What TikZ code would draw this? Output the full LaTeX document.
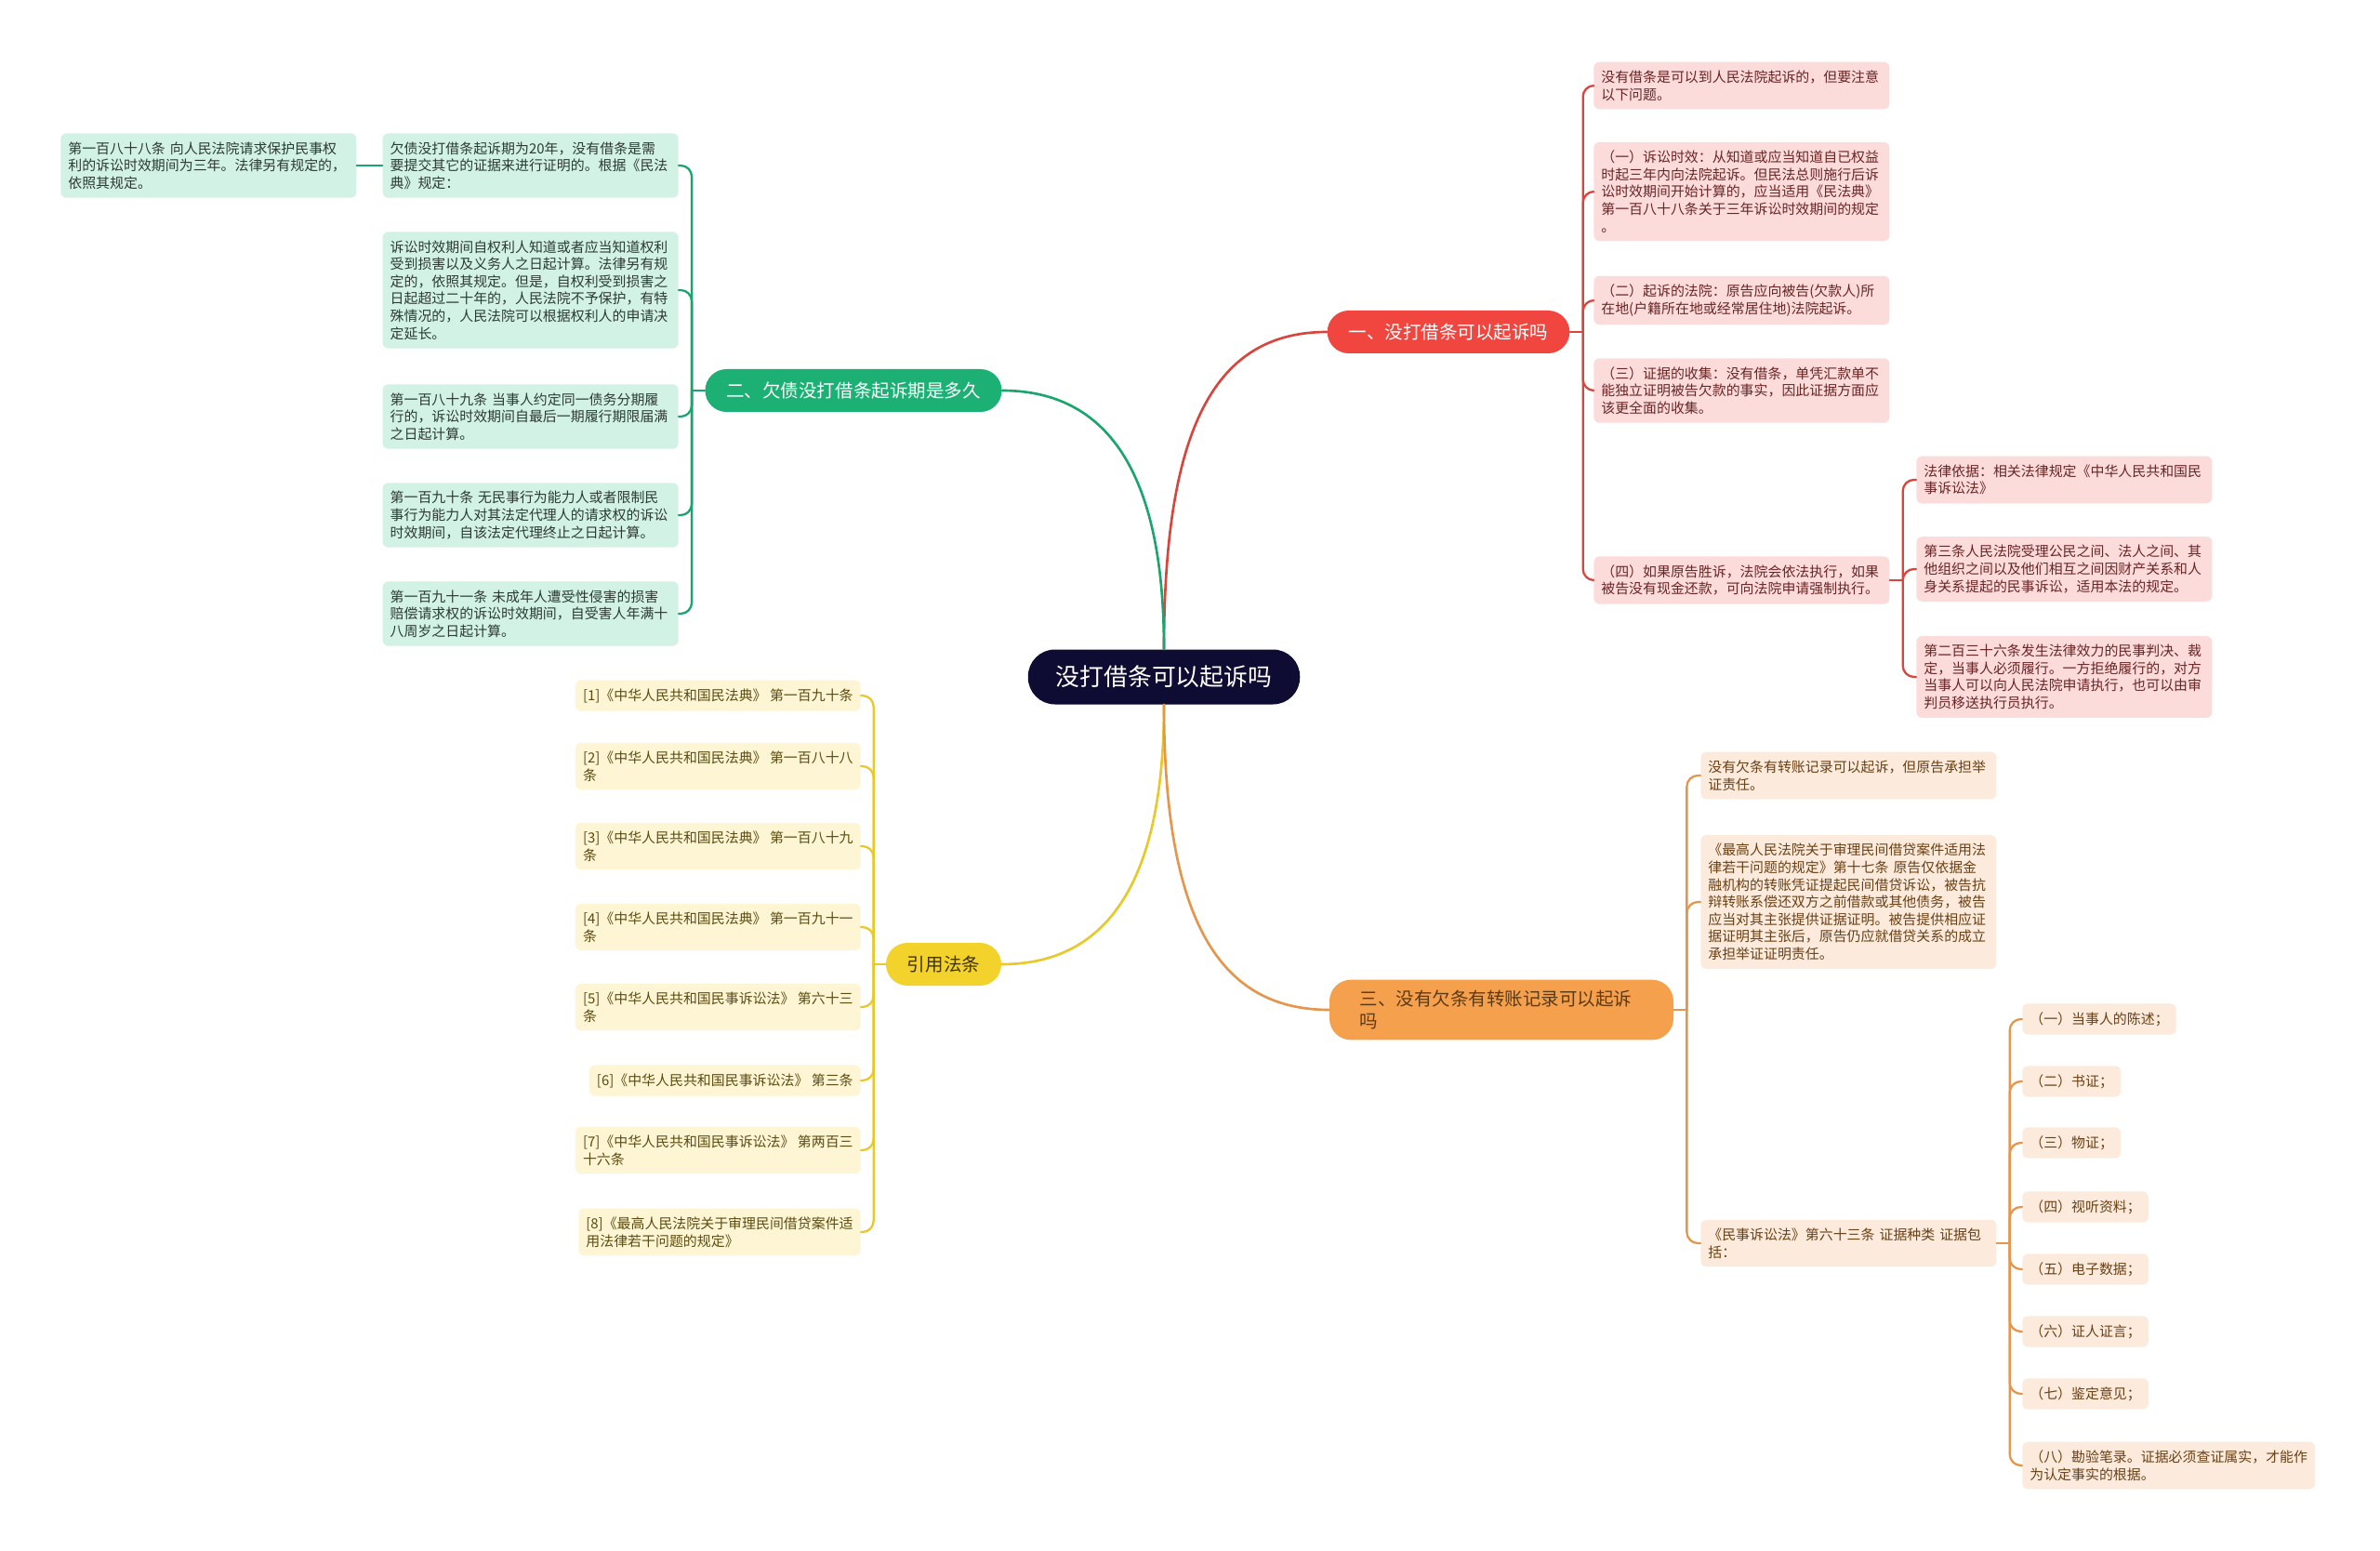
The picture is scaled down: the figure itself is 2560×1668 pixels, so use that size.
\documentclass[tikz,border=0pt]{standalone}
\usepackage{fontspec}
\setmainfont{Noto Sans CJK SC}
\usepackage{tikz}
\usepackage{xcolor}

\definecolor{rootbg}{HTML}{0E0C33}
\definecolor{redmain}{HTML}{F0463F}
\definecolor{redline}{HTML}{D8453D}
\definecolor{redleaf}{HTML}{FCDCDB}
\definecolor{redtext}{HTML}{6A2424}
\definecolor{greenmain}{HTML}{1DB074}
\definecolor{greenline}{HTML}{1AA56F}
\definecolor{greenleaf}{HTML}{D3F2E6}
\definecolor{greentext}{HTML}{2C3A33}
\definecolor{yellowmain}{HTML}{F2D22B}
\definecolor{yellowline}{HTML}{E9C82A}
\definecolor{yellowleaf}{HTML}{FDF5D3}
\definecolor{yellowtext}{HTML}{5C4C12}
\definecolor{yellowhead}{HTML}{40330A}
\definecolor{orangemain}{HTML}{F5A04C}
\definecolor{orangeline}{HTML}{E5964C}
\definecolor{orangeleaf}{HTML}{FCEBDC}
\definecolor{orangetext}{HTML}{6A4015}
\definecolor{orangehead}{HTML}{5B3A17}

\tikzset{
  root/.style={rectangle, fill=rootbg, text=white, rounded corners=5.8mm,
    inner xsep=6mm, inner ysep=3mm, minimum height=11.8mm,
    font=\fontsize{14.7}{18}\selectfont},
  branch/.style={rectangle, rounded corners=4.6mm, inner xsep=4.6mm,
    inner ysep=2.4mm, minimum height=9.2mm,
    font=\fontsize{11.1}{14}\selectfont},
  leaf/.style={rectangle, rounded corners=1.2mm, inner xsep=1.6mm,
    inner ysep=1.8mm, align=left, font=\fontsize{8.5}{10.6}\selectfont},
  wideleaf/.style={leaf, text width=60.4mm},
  gleaf/.style={wideleaf, fill=greenleaf, text=greentext},
  rleaf/.style={wideleaf, fill=redleaf, text=redtext},
  oleaf/.style={wideleaf, fill=orangeleaf, text=orangetext},
  oitem/.style={leaf, fill=orangeleaf, text=orangetext},
  yleaf/.style={leaf, fill=yellowleaf, text=yellowtext},
  link/.style={line width=1.3pt, line cap=round, rounded corners=2.4mm},
  trunk/.style={line width=1.5pt, line cap=round, out looseness=1.6, in looseness=0.8}
}

\begin{document}
\begin{tikzpicture}[x=0.2mm, y=-0.2mm]
\fill[white] (0,0) rectangle (2560,1668);
\useasboundingbox (0,0) rectangle (2560,1668);

% centre and main branches
\node[root] (root) at (1252,728) {没打借条可以起诉吗};
\node[branch, fill=redmain, text=white] (one) at (1558,357) {一、没打借条可以起诉吗};
\node[branch, fill=greenmain, text=white] (two) at (918,420) {二、欠债没打借条起诉期是多久};
\node[branch, fill=yellowmain, text=yellowhead] (cite) at (1015,1037) {引用法条};
\node[branch, fill=orangemain, text=orangehead, text width=61mm, align=left,
      inner xsep=6.5mm, inner ysep=2.2mm] (three) at (1615,1086)
  {三、没有欠条有转账记录可以起诉\\吗};

% green side
\node[gleaf, anchor=west] (g1a) at (65,178)
  {第一百八十八条 向人民法院请求保护民事权\\利的诉讼时效期间为三年。法律另有规定的，\\依照其规定。};
\node[gleaf, anchor=east] (g1) at (730,178)
  {欠债没打借条起诉期为20年，没有借条是需\\要提交其它的证据来进行证明的。根据《民法\\典》规定：};
\node[gleaf, anchor=east] (g2) at (730,312)
  {诉讼时效期间自权利人知道或者应当知道权利\\受到损害以及义务人之日起计算。法律另有规\\定的，依照其规定。但是，自权利受到损害之\\日起超过二十年的，人民法院不予保护，有特\\殊情况的，人民法院可以根据权利人的申请决\\定延长。};
\node[gleaf, anchor=east] (g3) at (730,448)
  {第一百八十九条 当事人约定同一债务分期履\\行的，诉讼时效期间自最后一期履行期限届满\\之日起计算。};
\node[gleaf, anchor=east] (g4) at (730,554)
  {第一百九十条 无民事行为能力人或者限制民\\事行为能力人对其法定代理人的请求权的诉讼\\时效期间，自该法定代理终止之日起计算。};
\node[gleaf, anchor=east] (g5) at (730,660)
  {第一百九十一条 未成年人遭受性侵害的损害\\赔偿请求权的诉讼时效期间，自受害人年满十\\八周岁之日起计算。};

% red side
\node[rleaf, anchor=west] (r1) at (1714,92)
  {没有借条是可以到人民法院起诉的，但要注意\\以下问题。};
\node[rleaf, anchor=west] (r2) at (1714,206)
  {（一）诉讼时效：从知道或应当知道自已权益\\时起三年内向法院起诉。但民法总则施行后诉\\讼时效期间开始计算的，应当适用《民法典》\\第一百八十八条关于三年诉讼时效期间的规定\\。};
\node[rleaf, anchor=west] (r3) at (1714,323)
  {（二）起诉的法院：原告应向被告(欠款人)所\\在地(户籍所在地或经常居住地)法院起诉。};
\node[rleaf, anchor=west] (r4) at (1714,420)
  {（三）证据的收集：没有借条，单凭汇款单不\\能独立证明被告欠款的事实，因此证据方面应\\该更全面的收集。};
\node[rleaf, anchor=west] (r5) at (1714,624)
  {（四）如果原告胜诉，法院会依法执行，如果\\被告没有现金还款，可向法院申请强制执行。};
\node[rleaf, anchor=west] (r5a) at (2061,516)
  {法律依据：相关法律规定《中华人民共和国民\\事诉讼法》};
\node[rleaf, anchor=west] (r5b) at (2061,612)
  {第三条人民法院受理公民之间、法人之间、其\\他组织之间以及他们相互之间因财产关系和人\\身关系提起的民事诉讼，适用本法的规定。};
\node[rleaf, anchor=west] (r5c) at (2061,728)
  {第二百三十六条发生法律效力的民事判决、裁\\定，当事人必须履行。一方拒绝履行的，对方\\当事人可以向人民法院申请执行，也可以由审\\判员移送执行员执行。};

% cited laws
\node[yleaf, anchor=east] (y1) at (926,748) {[1]《中华人民共和国民法典》 第一百九十条};
\node[yleaf, anchor=east] (y2) at (926,824) {[2]《中华人民共和国民法典》 第一百八十八\\条};
\node[yleaf, anchor=east] (y3) at (926,910) {[3]《中华人民共和国民法典》 第一百八十九\\条};
\node[yleaf, anchor=east] (y4) at (926,997) {[4]《中华人民共和国民法典》 第一百九十一\\条};
\node[yleaf, anchor=east] (y5) at (926,1083) {[5]《中华人民共和国民事诉讼法》 第六十三\\条};
\node[yleaf, anchor=east] (y6) at (926,1162) {[6]《中华人民共和国民事诉讼法》 第三条};
\node[yleaf, anchor=east] (y7) at (926,1237) {[7]《中华人民共和国民事诉讼法》 第两百三\\十六条};
\node[yleaf, anchor=east] (y8) at (926,1325) {[8]《最高人民法院关于审理民间借贷案件适\\用法律若干问题的规定》};

% orange side
\node[oleaf, anchor=west] (o1) at (1829,834)
  {没有欠条有转账记录可以起诉，但原告承担举\\证责任。};
\node[oleaf, anchor=west] (o2) at (1829,970)
  {《最高人民法院关于审理民间借贷案件适用法\\律若干问题的规定》第十七条 原告仅依据金\\融机构的转账凭证提起民间借贷诉讼，被告抗\\辩转账系偿还双方之前借款或其他债务，被告\\应当对其主张提供证据证明。被告提供相应证\\据证明其主张后，原告仍应就借贷关系的成立\\承担举证证明责任。};
\node[oleaf, anchor=west] (o3) at (1829,1337)
  {《民事诉讼法》第六十三条 证据种类 证据包\\括：};
\node[oitem, anchor=west] (o3a) at (2175,1096) {（一）当事人的陈述；};
\node[oitem, anchor=west] (o3b) at (2175,1163) {（二）书证；};
\node[oitem, anchor=west] (o3c) at (2175,1229) {（三）物证；};
\node[oitem, anchor=west] (o3d) at (2175,1298) {（四）视听资料；};
\node[oitem, anchor=west] (o3e) at (2175,1365) {（五）电子数据；};
\node[oitem, anchor=west] (o3f) at (2175,1432) {（六）证人证言；};
\node[oitem, anchor=west] (o3g) at (2175,1499) {（七）鉴定意见；};
\node[oitem, anchor=west] (o3h) at (2175,1576) {（八）勘验笔录。证据必须查证属实，才能作\\为认定事实的根据。};

% trunks
\draw[trunk, draw=redline] (root.north) to[out=90, in=180] (one.west);
\draw[trunk, draw=greenline] (root.north) to[out=90, in=0] (two.east);
\draw[trunk, draw=yellowline] (root.south) to[out=-90, in=0] (cite.east);
\draw[trunk, draw=orangeline] (root.south) to[out=-90, in=180] (three.west);

% twigs
\draw[link, draw=greenline] (two.west) -- ++(-14,0) coordinate (twospine);
\foreach \k in {g1,g2,g3,g4,g5}
  \draw[link, draw=greenline] (twospine) |- (\k.east);
\draw[link, draw=greenline] (g1.west) -- (g1a.east);

\draw[link, draw=redline] (one.east) -- ++(14,0) coordinate (onespine);
\foreach \k in {r1,r2,r3,r4,r5}
  \draw[link, draw=redline] (onespine) |- (\k.west);
\draw[link, draw=redline] (r5.east) -- ++(14,0) coordinate (fourspine);
\foreach \k in {r5a,r5b,r5c}
  \draw[link, draw=redline] (fourspine) |- (\k.west);

\draw[link, draw=yellowline] (cite.west) -- ++(-13,0) coordinate (citespine);
\foreach \k in {y1,y2,y3,y4,y5,y6,y7,y8}
  \draw[link, draw=yellowline] (citespine) |- (\k.east);

\draw[link, draw=orangeline] (three.east) -- ++(14,0) coordinate (threespine);
\foreach \k in {o1,o2,o3}
  \draw[link, draw=orangeline] (threespine) |- (\k.west);
\draw[link, draw=orangeline] (o3.east) -- ++(14,0) coordinate (kindspine);
\foreach \k in {o3a,o3b,o3c,o3d,o3e,o3f,o3g,o3h}
  \draw[link, draw=orangeline] (kindspine) |- (\k.west);
\end{tikzpicture}
\end{document}
